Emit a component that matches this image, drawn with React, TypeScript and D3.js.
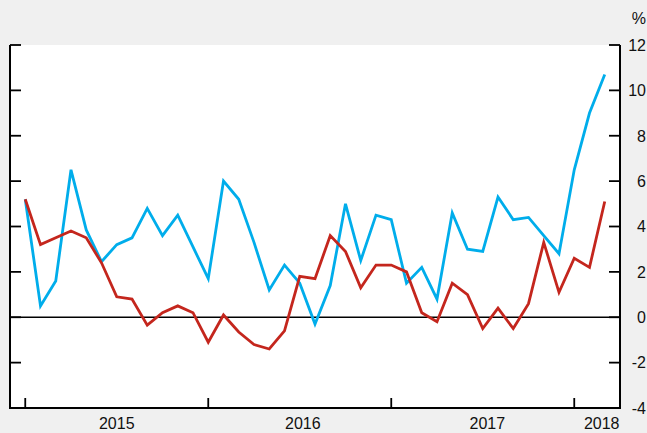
import * as d3 from "d3";

// monthly, Jan 2015 .. Mar 2018
const months = d3.range(39);
const blueSeries = [
  5.2, 0.5, 1.6, 6.5, 3.85, 2.45, 3.2, 3.5, 4.8, 3.6, 4.5, 3.1,
  1.7, 6.0, 5.2, 3.3, 1.2, 2.3, 1.5, -0.3, 1.4, 5.0, 2.5, 4.5,
  4.3, 1.5, 2.2, 0.8, 4.6, 3.0, 2.9, 5.3, 4.3, 4.4, 3.6, 2.8,
  6.5, 9.0, 10.7,
];
const redSeries = [
  5.2, 3.2, 3.5, 3.8, 3.5, 2.4, 0.9, 0.8, -0.35, 0.2, 0.5, 0.2,
  -1.1, 0.1, -0.65, -1.2, -1.4, -0.6, 1.8, 1.7, 3.6, 2.9, 1.3, 2.3,
  2.3, 2.0, 0.2, -0.2, 1.5, 1.0, -0.5, 0.4, -0.5, 0.6, 3.3, 1.1,
  2.6, 2.2, 5.1,
];
const yTicks = [12, 10, 8, 6, 4, 2, 0, -2, -4];
const yearTicks = [0, 12, 24, 36]; // January of each year
const yearLabels = [
  { label: "2015", at: 6 },
  { label: "2016", at: 18.2 },
  { label: "2017", at: 30.3 },
  { label: "2018", at: 37.8 },
];

export default function App() {
  const width = 647;
  const height = 433;
  const margin = { top: 45, right: 27, bottom: 25, left: 10 };
  const x0 = margin.left;
  const x1 = width - margin.right;
  const y0 = margin.top;
  const y1 = height - margin.bottom;

  const x = d3.scaleLinear().domain([-1, 39]).range([x0, x1]);
  const y = d3.scaleLinear().domain([-4, 12]).range([y1, y0]);

  const line = d3
    .line<number>()
    .x((_, i) => x(months[i]))
    .y((d) => y(d));

  const font = "'Liberation Sans', Arial, sans-serif";
  const fs = 16;

  return (
    <svg
      width={width}
      height={height}
      style={{ position: "absolute", left: 0, top: 0, background: "#f0f0f0" }}
    >
      <rect x={x0} y={y0} width={x1 - x0} height={y1 - y0} fill="#fff" />

      {/* zero line */}
      <line x1={x0} x2={x1} y1={y(0)} y2={y(0)} stroke="#000" strokeWidth={1.5} />

      <path d={line(blueSeries) ?? ""} fill="none" stroke="#00adeb" strokeWidth={2.8} />
      <path d={line(redSeries) ?? ""} fill="none" stroke="#c4261d" strokeWidth={2.8} />

      {/* frame */}
      <path
        d={`M${x0},${y0}V${y1}H${x1}V${y0}`}
        fill="none"
        stroke="#000"
        strokeWidth={2}
      />

      {/* y ticks both sides */}
      {yTicks.map((t) => (
        <g key={t}>
          <line x1={x0} x2={x0 + 11} y1={y(t)} y2={y(t)} stroke="#000" strokeWidth={1.8} />
          <line x1={x1 - 11} x2={x1} y1={y(t)} y2={y(t)} stroke="#000" strokeWidth={1.8} />
          <text
            x={646}
            y={y(t)}
            dy="0.36em"
            textAnchor="end"
            fontFamily={font}
            fontSize={fs}
            fill="#111"
          >
            {t}
          </text>
        </g>
      ))}
      <text x={646} y={18} dy="0.36em" textAnchor="end" fontFamily={font} fontSize={fs} fill="#111">
        %
      </text>

      {/* x ticks */}
      {yearTicks.map((m) => (
        <line key={m} x1={x(m)} x2={x(m)} y1={y1} y2={y1 - 10} stroke="#000" strokeWidth={1.8} />
      ))}
      {yearLabels.map((d) => (
        <text
          key={d.label}
          x={x(d.at)}
          y={429}
          textAnchor="middle"
          fontFamily={font}
          fontSize={fs}
          fill="#111"
        >
          {d.label}
        </text>
      ))}
    </svg>
  );
}
